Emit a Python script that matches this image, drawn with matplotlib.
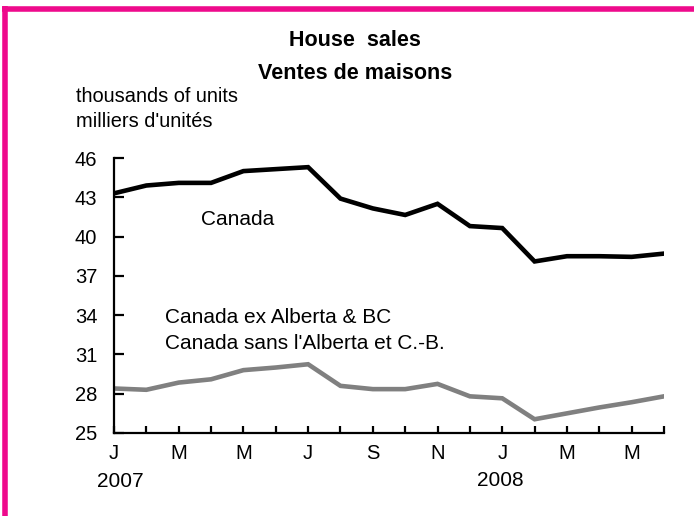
import matplotlib as mpl
import matplotlib.pyplot as plt
import numpy as np

mpl.rcParams["font.family"] = ["Liberation Sans", "DejaVu Sans"]

# DATA: monthly house sales, Jan 2007 - Jun 2008 (thousands of units)
months = ["J", "F", "M", "A", "M", "J", "J", "A", "S", "O", "N", "D",
          "J", "F", "M", "A", "M", "J"]
canada = [43.3, 43.9, 44.1, 44.1, 45.0, 45.15, 45.3, 42.9, 42.15,
          41.65, 42.5, 40.8, 40.65, 38.1, 38.5, 38.5, 38.45, 38.7]
canada_ex_ab_bc = [28.4, 28.3, 28.85, 29.1, 29.8, 30.0, 30.25, 28.6, 28.35,
                   28.35, 28.75, 27.8, 27.65, 26.05, 26.5, 26.95, 27.35, 27.8]
years = ["2007", "2008"]
y_ticks = [25, 28, 31, 34, 37, 40, 43, 46]

W, H = 694, 516
fig = plt.figure(figsize=(W / 100, H / 100), dpi=100)


def fx(px):
	return px / W


def fy(py):
	return 1 - py / H


# PINK FRAME (top and left edges)
pink = "#EE0A8C"
fig.add_artist(plt.Line2D([fx(4.5), fx(4.5)], [0, fy(6)], color=pink,
                          lw=4, transform=fig.transFigure,
                          solid_capstyle="butt"))
fig.add_artist(plt.Line2D([fx(2), 1], [fy(8.5), fy(8.5)], color=pink,
                          lw=4, transform=fig.transFigure,
                          solid_capstyle="butt"))

ax = fig.add_axes([fx(114), fy(433), 550 / W, 275 / H])
x = np.arange(len(months))
ax.plot(x, canada, color="black", lw=3.3, solid_joinstyle="miter")
ax.plot(x, canada_ex_ab_bc, color="#808080", lw=3.3, solid_joinstyle="miter")

ax.set_xlim(0, len(months) - 1)
ax.set_ylim(y_ticks[0], y_ticks[-1])
ax.set_yticks(y_ticks)
ax.set_xticks(x)
ax.set_xticklabels([m if i % 2 == 0 else "" for i, m in enumerate(months)])

for s in ["top", "right"]:
	ax.spines[s].set_visible(False)
for s in ["left", "bottom"]:
	ax.spines[s].set_linewidth(1.6)
ax.tick_params(axis="y", direction="in", length=7, width=1.6, labelsize=14.5,
               pad=12)
ax.tick_params(axis="x", direction="in", length=5, width=1.6, labelsize=14.5,
               pad=8)

# year labels
fig.text(fx(120), fy(487), years[0], fontsize=15, ha="center", va="baseline")
fig.text(fx(500), fy(486), years[1], fontsize=15, ha="center", va="baseline")

# series labels
fig.text(fx(201), fy(225), "Canada", fontsize=15, ha="left", va="baseline")
fig.text(fx(165), fy(323), "Canada ex Alberta & BC", fontsize=15,
         ha="left", va="baseline")
fig.text(fx(165), fy(349), "Canada sans l'Alberta et C.-B.", fontsize=15,
         ha="left", va="baseline")

# title and unit label
fig.text(fx(355), fy(46), "House  sales", fontsize=15.5,
         fontweight="bold", ha="center", va="baseline")
fig.text(fx(355), fy(79), "Ventes de maisons", fontsize=15.5,
         fontweight="bold", ha="center", va="baseline")
fig.text(fx(76), fy(102), "thousands of units", fontsize=14.4,
         ha="left", va="baseline")
fig.text(fx(76), fy(127), "milliers d'unités", fontsize=14.4,
         ha="left", va="baseline")

plt.savefig("out.png", dpi=100)
